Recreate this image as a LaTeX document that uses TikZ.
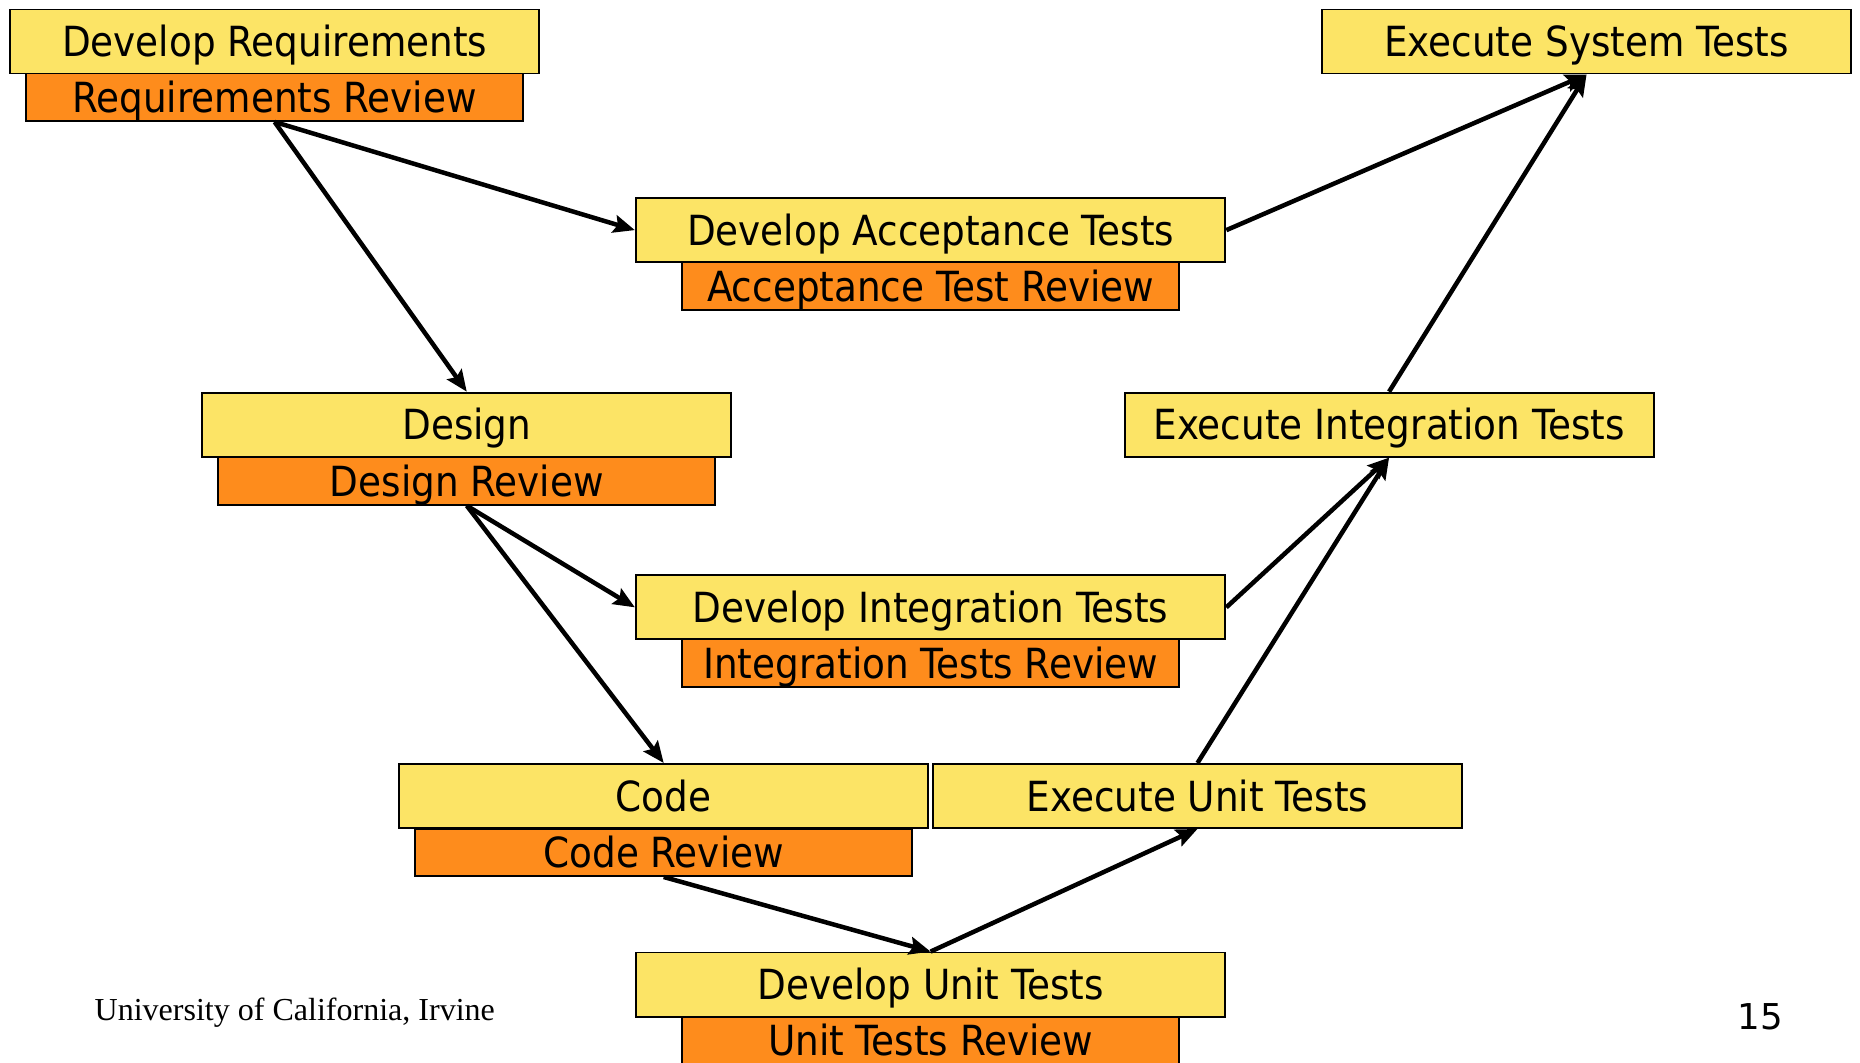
\documentclass[tikz,border=0pt]{standalone}
\usepackage{fontspec}
\setmainfont{DejaVu Sans Condensed}
\newfontfamily\seriffont{Liberation Serif}
\newfontfamily\numfont{DejaVu Sans}
\usetikzlibrary{arrows.meta}
\definecolor{boxyellow}{RGB}{252,228,102}
\definecolor{boxorange}{RGB}{254,140,28}
\tikzset{
  task/.style={draw=black, line width=1.6pt, fill=boxyellow, minimum height=54pt, inner sep=0pt,
    text height=25.5pt, text depth=0pt, font=\fontsize{35}{38}\selectfont, anchor=center},
  review/.style={draw=black, line width=1.6pt, fill=boxorange, minimum width=419pt, minimum height=40pt, inner sep=0pt,
    text height=25.5pt, text depth=0pt, font=\fontsize{35}{38}\selectfont, anchor=center},
  wide/.style={minimum width=497pt},
  narrow/.style={minimum width=446pt},
  flow/.style={line width=3.8pt, -{Stealth[length=18pt,width=15pt,inset=3pt]}},
}
\begin{document}
\begin{tikzpicture}[x=1pt,y=-1pt]
\useasboundingbox (0,0) rectangle (1568,896);
% review boxes (drawn first)
\node[review] (rr) at (231.5,82) {Requirements Review};
\node[review] (atr) at (784.5,241) {Acceptance Test Review};
\node[review] (drv) at (393.5,405.5) {Design Review};
\node[review] (itr) at (784.5,559) {Integration Tests Review};
\node[review] (cr) at (559.5,718.5) {Code Review};
\node[review] (utr) at (784.5,877) {Unit Tests Review};
% task boxes
\node[task,narrow] (dr) at (231.5,35) {Develop Requirements};
\node[task,narrow] (est) at (1337.5,35) {Execute System Tests};
\node[task,wide] (dat) at (784.5,194) {Develop Acceptance Tests};
\node[task,narrow] (des) at (393.5,358) {Design};
\node[task,narrow] (eit) at (1171,358) {Execute Integration Tests};
\node[task,wide] (dit) at (784.5,512) {Develop Integration Tests};
\node[task,narrow] (code) at (559.5,671) {Code};
\node[task,narrow] (eut) at (1009.5,671) {Execute Unit Tests};
\node[task,wide] (dut) at (784.5,830) {Develop Unit Tests};
% footer
\node[font=\seriffont\fontsize{27}{30}\selectfont, inner sep=0pt] (uci) at (248.5,854) {University of California, Irvine};
\node[font=\numfont\fontsize{30}{34}\selectfont, inner sep=0pt] (pg) at (1484,857) {15};
% connectors
\draw[flow] (rr.south) -- (des.north);
\draw[flow] (rr.south) -- (dat.west);
\draw[flow] (dat.east) -- (est.south);
\draw[flow] (eit.north) -- (est.south);
\draw[flow] (drv.south) -- (code.north);
\draw[flow] (drv.south) -- (dit.west);
\draw[flow] (dit.east) -- (eit.south);
\draw[flow] (eut.north) -- (eit.south);
\draw[flow] (cr.south) -- (dut.north);
\draw[flow] (dut.north) -- (eut.south);
\end{tikzpicture}
\end{document}
